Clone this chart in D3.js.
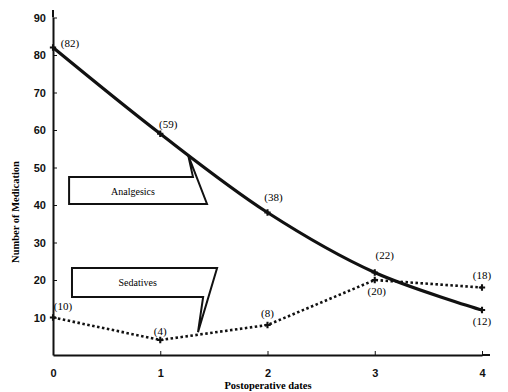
<!DOCTYPE html>
<html>
<head>
<meta charset="utf-8">
<script src="https://cdn.jsdelivr.net/npm/d3@7"></script>
<style>
  body { margin: 0; background: #fff; }
  svg { font-family: "Liberation Serif", "DejaVu Serif", serif; }
  .axis path, .axis line { stroke: #111; }
  .axis text { font-size: 11px; font-weight: bold; fill: #111; }
</style>
</head>
<body>
<svg id="chart" width="508" height="392"></svg>
<script>
var days = [0, 1, 2, 3, 4];
var analgesics = [82, 59, 38, 22, 12];
var sedatives = [10, 4, 8, 20, 18];
var yTicks = [10, 20, 30, 40, 50, 60, 70, 80, 90];
var xTicks = [0, 1, 2, 3, 4];

var svg = d3.select('#chart');

var x = d3.scaleLinear().domain([0, 4]).range([53, 482]);
var y = d3.scaleLinear().domain([0, 90]).range([355, 17.5]);

// axes, ticks pointing into the plot
svg.append('g')
  .attr('class', 'axis')
  .attr('transform', 'translate(' + x(0) + ',0)')
  .call(d3.axisLeft(y).tickValues(yTicks).tickSizeInner(-4).tickSizeOuter(0).tickPadding(7))
  .call(function(g) { g.select('.domain').attr('stroke-width', 2); });

svg.append('line')
  .attr('x1', x(0)).attr('x2', x(0))
  .attr('y1', y(90)).attr('y2', 10)
  .attr('stroke', '#111').attr('stroke-width', 2);

svg.append('g')
  .attr('class', 'axis')
  .attr('transform', 'translate(0,' + y(0) + ')')
  .call(d3.axisBottom(x).tickValues(xTicks).tickFormat(d3.format('d'))
    .tickSizeInner(-4).tickSizeOuter(0).tickPadding(14))
  .call(function(g) { g.select('.domain').attr('stroke-width', 2); });

svg.append('line')
  .attr('x1', x(4)).attr('x2', 490)
  .attr('y1', y(0)).attr('y2', y(0))
  .attr('stroke', '#111').attr('stroke-width', 2);

// axis titles
svg.append('text')
  .attr('x', 268).attr('y', 389)
  .attr('text-anchor', 'middle')
  .attr('font-size', 10.5).attr('font-weight', 'bold')
  .text('Postoperative dates');

svg.append('text')
  .attr('transform', 'translate(19,212) rotate(-90)')
  .attr('text-anchor', 'middle')
  .attr('font-size', 10.5).attr('font-weight', 'bold')
  .text('Number of Medication');

// lines
var line = function(vals, curve) {
  return d3.line()
    .x(function(d, i) { return x(days[i]); })
    .y(function(d) { return y(d); })
    .curve(curve)(vals);
};

svg.append('path')
  .attr('d', line(analgesics, d3.curveCatmullRom.alpha(0.5)))
  .attr('fill', 'none').attr('stroke', '#111')
  .attr('stroke-width', 3.2);

svg.append('path')
  .attr('d', line(sedatives, d3.curveLinear))
  .attr('fill', 'none').attr('stroke', '#111')
  .attr('stroke-width', 2.6)
  .attr('stroke-dasharray', '2.5,2.5');

// point markers
var cross = d3.symbol().type(d3.symbolCross).size(22);
[analgesics, sedatives].forEach(function(vals) {
  svg.append('g').selectAll('path')
    .data(vals)
    .enter()
    .append('path')
    .attr('d', cross)
    .attr('fill', '#111')
    .attr('transform', function(d, i) { return 'translate(' + x(days[i]) + ',' + y(d) + ')'; });
});

// value labels (dx, dy offsets from the point)
var aOffsets = [[17, -3], [8, -8], [6, -14], [10, -16], [0, 12]];
var sOffsets = [[10, -10], [0, -8], [0, -11], [2, 12], [0, -11]];

function labels(vals, offs) {
  svg.append('g').selectAll('text')
    .data(vals)
    .enter()
    .append('text')
    .attr('x', function(d, i) { return x(days[i]) + offs[i][0]; })
    .attr('y', function(d, i) { return y(d) + offs[i][1]; })
    .attr('text-anchor', 'middle')
    .attr('dominant-baseline', 'middle')
    .attr('font-size', 11)
    .text(function(d) { return '(' + d + ')'; });
}
labels(analgesics, aOffsets);
labels(sedatives, sOffsets);

// callout boxes, in data units
var callouts = [
  { name: 'Analgesics', text: [0.746, 43.2],
    pts: [[0.15, 47.5], [1.305, 47.5], [1.26, 53.3], [1.436, 40.3], [0.15, 40.3]] },
  { name: 'Sedatives', text: [0.79, 18.9],
    pts: [[0.177, 23.2], [1.53, 23.2], [1.352, 6.1], [1.40, 15.5], [0.177, 15.5]] }
];

callouts.forEach(function(c) {
  svg.append('polygon')
    .attr('points', c.pts.map(function(p) { return x(p[0]) + ',' + y(p[1]); }).join(' '))
    .attr('fill', '#fff').attr('stroke', '#111')
    .attr('stroke-width', 2).attr('stroke-linejoin', 'miter');
  svg.append('text')
    .attr('x', x(c.text[0])).attr('y', y(c.text[1]))
    .attr('text-anchor', 'middle').attr('dominant-baseline', 'middle')
    .attr('font-size', 10)
    .text(c.name);
});
</script>
</body>
</html>
